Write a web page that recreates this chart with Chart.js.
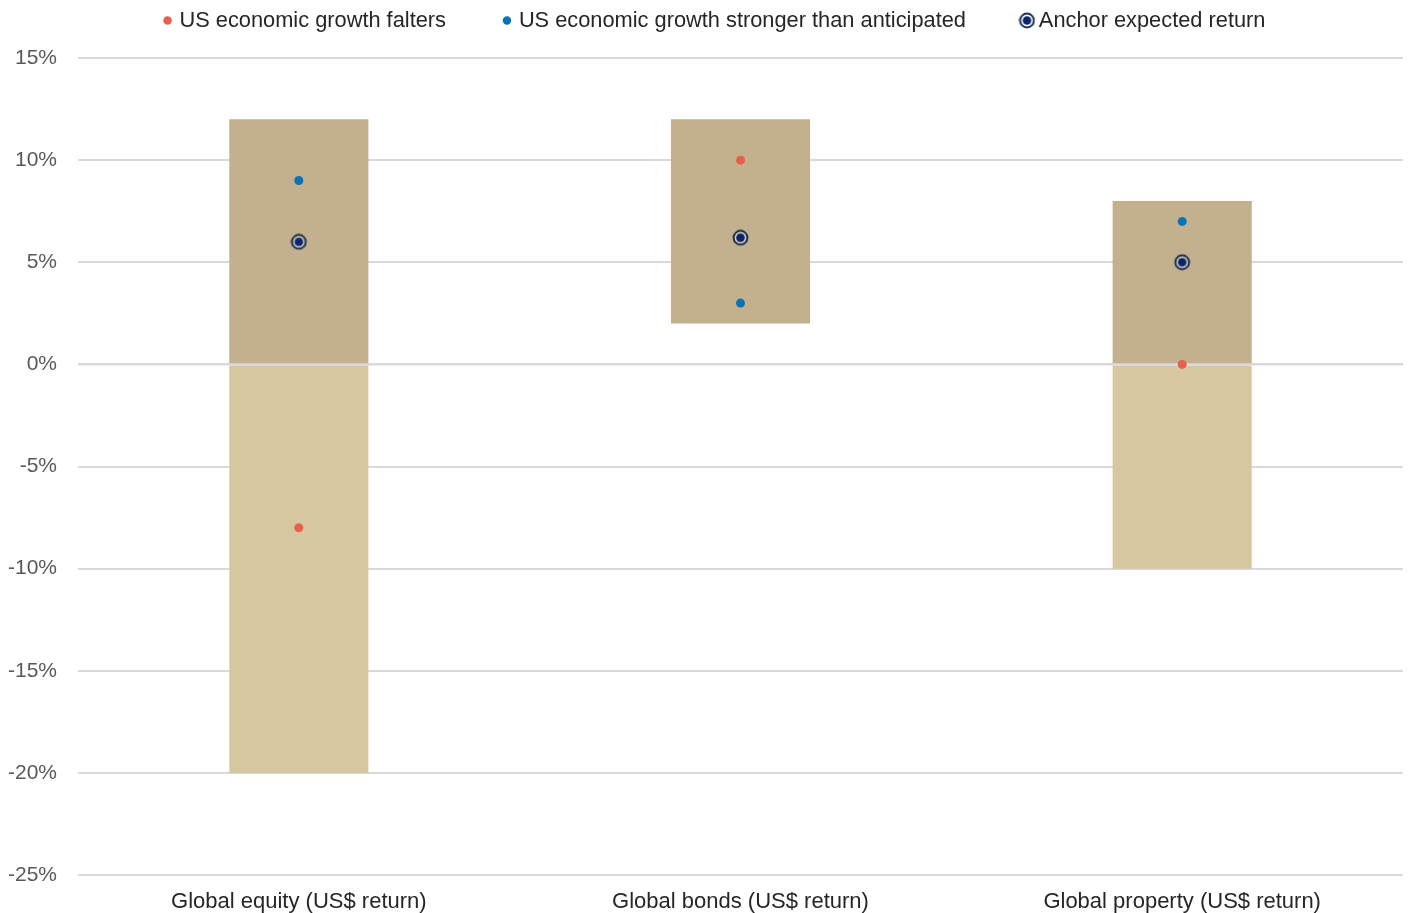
<!DOCTYPE html>
<html>
<head>
<meta charset="utf-8">
<script src="https://cdn.jsdelivr.net/npm/chart.js@4.4.1/dist/chart.umd.min.js"></script>
<style>
html,body{margin:0;padding:0;background:#fff;}
#wrap{width:1412px;height:913px;position:relative;}
</style>
</head>
<body>
<div id="wrap"><canvas id="c"></canvas></div>
<script>
const categories = ['Global equity (US$ return)', 'Global bonds (US$ return)', 'Global property (US$ return)'];
const upperRange = [[0, 12], [2, 12], [0, 8]];
const lowerRange = [[-20, 0], null, [-10, 0]];
const faltersValues = [-8, 10, 0];
const strongerValues = [9, 3, 7];
const anchorValues = [6, 6.2, 5];
const yMin = -25, yMax = 15, yStep = 5;

const FONT = 22;
const LEG_FONT = 21.8;
const TICK_FONT = 21;
const LEG_PAD = 60;
const LEG_Y = 20.5;
const LEG_SHIFT_X = 27;

function anchorImage() {
  const c = document.createElement('canvas');
  c.width = 17; c.height = 17;
  const x = c.getContext('2d');
  x.beginPath(); x.arc(8.5, 8.5, 6, 0, Math.PI * 2);
  x.fillStyle = 'rgba(255,255,255,0.35)'; x.fill();
  x.beginPath(); x.arc(8.5, 8.5, 6.9, 0, Math.PI * 2);
  x.lineWidth = 2; x.strokeStyle = '#1b3350'; x.stroke();
  x.beginPath(); x.arc(8.5, 8.5, 4.3, 0, Math.PI * 2);
  x.fillStyle = '#0b2470'; x.fill();
  return c;
}
const anchorStyle = anchorImage();

const zeroLine = {
  id: 'zeroLine',
  afterDatasetDraw(chart, args) {
    if (args.index !== 3) return;
    const y = chart.scales.y.getPixelForValue(0);
    const ctx = chart.ctx;
    ctx.save();
    ctx.strokeStyle = '#d9d9d9';
    ctx.lineWidth = 2;
    ctx.beginPath();
    ctx.moveTo(chart.chartArea.left, y);
    ctx.lineTo(chart.chartArea.right, y);
    ctx.stroke();
    ctx.restore();
  }
};

const legendTweak = {
  id: 'legendTweak',
  afterInit(chart) {
    const lg = chart.legend;
    const origFit = lg.fit;
    lg.fit = function () { origFit.call(this); this.height = 58; };
    const origDraw = lg.draw;
    lg.draw = function () {
      const shift = LEG_PAD + LEG_FONT / 2 - LEG_Y;
      const t = this.top, l = this.left;
      this.top = t - shift;
      this.left = l + LEG_SHIFT_X;
      origDraw.apply(this, arguments);
      this.top = t;
      this.left = l;
    };
  }
};

Chart.defaults.font.family = '"Liberation Sans", Arial, sans-serif';

new Chart(document.getElementById('c'), {
  data: {
    labels: categories,
    datasets: [
      { type: 'line', label: 'US economic growth falters', data: faltersValues, showLine: false,
        pointRadius: 4.5, pointHoverRadius: 4.5, pointBackgroundColor: '#e8604c', pointBorderWidth: 0, backgroundColor: '#e8604c', borderColor: '#e8604c' },
      { type: 'line', label: 'US economic growth stronger than anticipated', data: strongerValues, showLine: false,
        pointRadius: 4.5, pointHoverRadius: 4.5, pointBackgroundColor: '#0a73b5', pointBorderWidth: 0, backgroundColor: '#0a73b5', borderColor: '#0a73b5' },
      { type: 'line', label: 'Anchor expected return', data: anchorValues, showLine: false,
        pointStyle: anchorStyle, pointRadius: 8, backgroundColor: '#0b2470', borderColor: '#1b3350' },
      { type: 'bar', label: 'upper', data: upperRange, backgroundColor: '#c3b08f', grouped: false,
        barPercentage: 0.315, categoryPercentage: 1, borderWidth: 0, borderSkipped: false },
      { type: 'bar', label: 'lower', data: lowerRange, backgroundColor: '#d6c7a1', grouped: false,
        barPercentage: 0.315, categoryPercentage: 1, borderWidth: 0, borderSkipped: false }
    ]
  },
  options: {
    responsive: true,
    maintainAspectRatio: false,
    animation: false,
    layout: { padding: { left: 0, right: 7, top: 0, bottom: 0 } },
    plugins: {
      tooltip: { enabled: false },
      legend: {
        position: 'top',
        labels: {
          filter: (item) => item.datasetIndex < 3,
          usePointStyle: true,
          boxWidth: 2, boxHeight: 6,
          padding: LEG_PAD,
          color: '#262626',
          font: { size: LEG_FONT }
        }
      }
    },
    scales: {
      x: {
        grid: { display: false },
        border: { display: false },
        ticks: { color: '#262626', font: { size: FONT }, padding: 6 },
        afterFit(s) { s.height = 38; }
      },
      y: {
        min: yMin, max: yMax,
        ticks: { stepSize: yStep, color: '#595959', font: { size: TICK_FONT }, padding: 21,
          callback: (v) => v + '%' },
        grid: { color: '#d9d9d9', lineWidth: 2, drawTicks: false },
        border: { display: false },
        afterFit(s) { s.width = 78; }
      }
    }
  },
  plugins: [zeroLine, legendTweak]
});
</script>
</body>
</html>
